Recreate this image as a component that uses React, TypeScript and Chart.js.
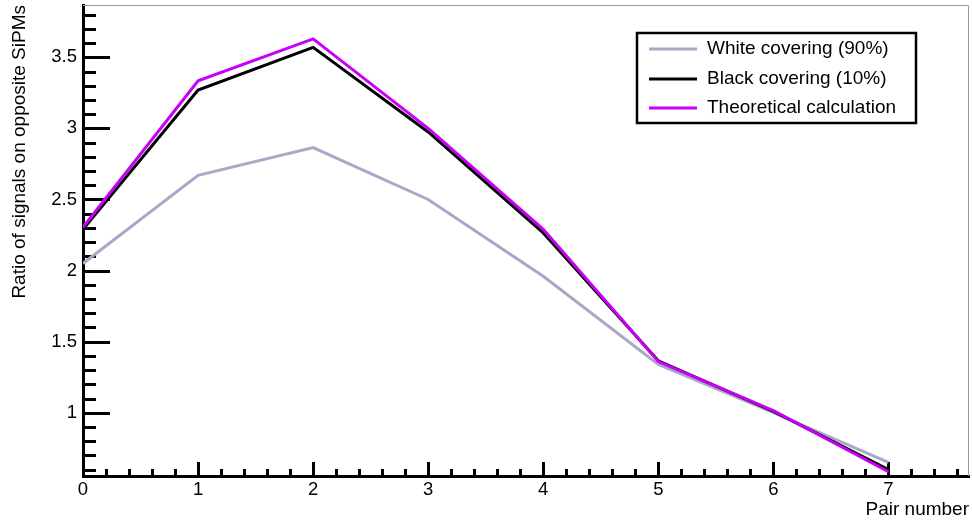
import React, { useEffect, useRef } from "react";
import { Chart, registerables } from "chart.js";

Chart.register(...registerables);

// ---- Data ----
const pairNumbers = [0, 1, 2, 3, 4, 5, 6, 7];
const whiteCovering = [2.05, 2.67, 2.865, 2.5, 1.96, 1.34, 1.0, 0.65];
const blackCovering = [2.29, 3.27, 3.57, 2.975, 2.265, 1.365, 1.01, 0.6];
const theoreticalCalc = [2.305, 3.335, 3.63, 3.0, 2.29, 1.36, 1.015, 0.585];
const seriesNames = ["White covering (90%)", "Black covering (10%)", "Theoretical calculation"];
const seriesColors = ["#aba7c6", "#000000", "#c800f8"];
const xTickValues = [0, 1, 2, 3, 4, 5, 6, 7];
const yTickValues = [1, 1.5, 2, 2.5, 3, 3.5];
const xRange = [0, 7.7];
const yRange = [0.555, 3.868];
const xAxisTitle = "Pair number";
const yAxisTitle = "Ratio of signals on opposite SiPMs";

const FONT = "'Liberation Sans', Arial, Helvetica, sans-serif";

const rootAxesPlugin = {
  id: "rootAxes",
  beforeDatasetsDraw(chart: any) {
    const { ctx, chartArea: a, scales } = chart;
    const xs = scales.x;
    const ys = scales.y;
    ctx.save();
    // thin grey frame on top and right
    ctx.strokeStyle = "#9a9a9a";
    ctx.lineWidth = 1;
    ctx.beginPath();
    ctx.moveTo(a.left, a.top + 0.5);
    ctx.lineTo(a.right - 0.5, a.top + 0.5);
    ctx.lineTo(a.right - 0.5, a.bottom);
    ctx.stroke();

    ctx.strokeStyle = "#000";
    ctx.lineWidth = 3;
    ctx.lineCap = "butt";
    // x-axis ticks: minor every 0.2, major every 1
    for (let i = 1; i * 0.2 <= xs.max + 1e-9; i++) {
      const v = i * 0.2;
      const px = Math.round(xs.getPixelForValue(v)) + 0.5;
      const len = i % 5 === 0 ? 14 : 7;
      ctx.beginPath();
      ctx.moveTo(px, a.bottom);
      ctx.lineTo(px, a.bottom - len);
      ctx.stroke();
    }
    // y-axis ticks: minor every 0.1, major every 0.5
    for (let i = Math.ceil(ys.min * 10); i <= Math.floor(ys.max * 10); i++) {
      const v = i / 10;
      const py = Math.round(ys.getPixelForValue(v)) + 0.5;
      const len = i % 5 === 0 ? 27 : 13;
      ctx.beginPath();
      ctx.moveTo(a.left, py);
      ctx.lineTo(a.left + len, py);
      ctx.stroke();
    }
    ctx.restore();
  },
};

const boxLegendPlugin = {
  id: "boxLegend",
  afterDatasetsDraw(chart: any) {
    const { ctx } = chart;
    const x0 = 637, y0 = 33, w = 279, h = 90;
    ctx.save();
    ctx.fillStyle = "#fff";
    ctx.fillRect(x0, y0, w, h);
    ctx.strokeStyle = "#000";
    ctx.lineWidth = 2.5;
    ctx.strokeRect(x0, y0, w, h);
    ctx.font = `19px ${FONT}`;
    ctx.textBaseline = "middle";
    ctx.textAlign = "left";
    const rows = [49, 79, 108];
    chart.data.datasets.forEach((ds: any, i: number) => {
      const y = rows[i];
      ctx.strokeStyle = ds.borderColor;
      ctx.lineWidth = 3;
      ctx.beginPath();
      ctx.moveTo(649, y);
      ctx.lineTo(697, y);
      ctx.stroke();
      ctx.fillStyle = "#000";
      ctx.fillText(ds.label, 707, y);
    });
    ctx.restore();
  },
};

export default function App() {
  const canvasRef = useRef<HTMLCanvasElement | null>(null);

  useEffect(() => {
    document.body.style.margin = "0";
    const canvas = canvasRef.current;
    if (!canvas) return;
    const seriesValues = [whiteCovering, blackCovering, theoreticalCalc];
    const chart = new Chart(canvas, {
      type: "line",
      data: {
        datasets: seriesValues.map((vals, i) => ({
          label: seriesNames[i],
          data: pairNumbers.map((x, j) => ({ x, y: vals[j] })),
          borderColor: seriesColors[i],
          backgroundColor: seriesColors[i],
          borderWidth: 3,
          pointRadius: 0,
          tension: 0,
          fill: false,
          order: 2 - i,
        })),
      },
      options: {
        responsive: false,
        animation: false,
        devicePixelRatio: 1,
        layout: { padding: { top: 5, right: 3, left: 0, bottom: 0 } },
        plugins: { legend: { display: false }, tooltip: { enabled: false } },
        scales: {
          x: {
            type: "linear",
            min: xRange[0],
            max: xRange[1],
            afterFit: (s: any) => {
              s.height = 46;
              s.paddingLeft = 0;
              s.paddingRight = 0;
            },
            afterBuildTicks: (s: any) => { s.ticks = xTickValues.map((v) => ({ value: v })); },
            grid: { display: false, drawTicks: false },
            border: { display: true, color: "#000", width: 3 },
            ticks: {
              padding: 3,
              color: "#000",
              font: { family: FONT, size: 18.5 },
              maxRotation: 0,
              autoSkip: false,
              callback: (v: any) => String(v),
            },
            title: {
              display: true,
              text: xAxisTitle,
              align: "end",
              color: "#000",
              font: { family: FONT, size: 19 },
              padding: { top: 0, bottom: 1 },
            },
          },
          y: {
            type: "linear",
            min: yRange[0],
            max: yRange[1],
            afterFit: (s: any) => {
              s.width = 83;
              s.paddingTop = 0;
              s.paddingBottom = 0;
            },
            afterBuildTicks: (s: any) => { s.ticks = yTickValues.map((v) => ({ value: v })); },
            grid: { display: false, drawTicks: false },
            border: { display: true, color: "#000", width: 3 },
            ticks: {
              padding: 6,
              color: "#000",
              font: { family: FONT, size: 18.5 },
              autoSkip: false,
              callback: (v: any) => String(v),
            },
            title: {
              display: true,
              text: yAxisTitle,
              align: "end",
              color: "#000",
              font: { family: FONT, size: 19 },
              padding: { top: 8, bottom: 0 },
            },
          },
        },
      },
      plugins: [rootAxesPlugin, boxLegendPlugin],
    } as any);
    return () => chart.destroy();
  }, []);

  return (
    <div style={{ width: 972, height: 522, background: "#fff" }}>
      <canvas ref={canvasRef} width={972} height={522} style={{ display: "block" }} />
    </div>
  );
}
